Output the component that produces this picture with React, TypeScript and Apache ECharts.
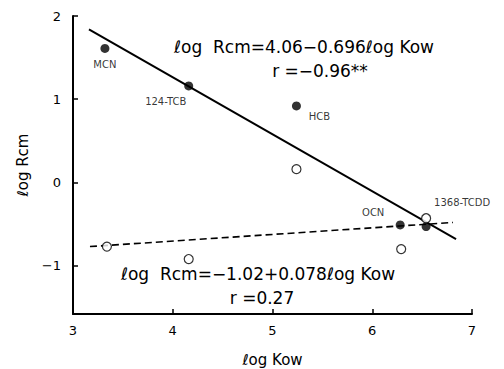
import React, { useEffect, useRef } from "react";
import * as echarts from "echarts";

// Filled points (log Kow, log Rcm) with compound names
const closedNames = ["MCN", "124-TCB", "HCB", "OCN", "1368-TCDD"];
const closedX = [3.32, 4.16, 5.24, 6.28, 6.54];
const closedY = [1.61, 1.16, 0.92, -0.51, -0.53];
// Open points
const openX = [3.34, 4.16, 5.24, 6.29, 6.54];
const openY = [-0.77, -0.92, 0.16, -0.8, -0.43];
// Regression line endpoints
const solidLineX = [3.16, 6.84];
const solidLineY = [1.84, -0.68];
const dashLineX = [3.17, 6.81];
const dashLineY = [-0.77, -0.48];
// Axis ticks
const xTicks = [3, 4, 5, 6, 7];
const yTicks = [-1, 0, 1, 2];

const labelOffsets: number[][] = [
  [0, 16],
  [-23, 16],
  [23, 11],
  [-27, -12],
  [36, -24],
];

const FONT = "'DejaVu Sans', 'Liberation Sans', sans-serif";

export default function App() {
  const ref = useRef<HTMLDivElement>(null);
  useEffect(() => {
    if (!ref.current) return;
    const chart = echarts.init(ref.current, undefined, { renderer: "svg" });
    const closedData = closedX.map((x, i) => ({
      value: [x, closedY[i]],
      label: {
        show: true,
        formatter: closedNames[i],
        position: "inside",
        offset: labelOffsets[i],
        color: "#000",
        fontSize: 10,
        fontFamily: FONT,
      },
    }));
    chart.setOption({
      animation: false,
      backgroundColor: "#fff",
      grid: { left: 73, top: 16, right: 32, bottom: 55, outerBoundsMode: "none", containLabel: false },
      xAxis: {
        type: "value",
        min: xTicks[0],
        max: xTicks[xTicks.length - 1],
        interval: 1,
        name: "ℓog Kow",
        nameLocation: "middle",
        nameGap: 38,
        nameTextStyle: { color: "#000", fontSize: 15, fontFamily: FONT },
        axisLine: { show: true, onZero: false, lineStyle: { color: "#000", width: 2 } },
        axisTick: { show: true, inside: true, length: 5, lineStyle: { color: "#000", width: 1.5 } },
        axisLabel: { color: "#000", fontSize: 13, fontFamily: FONT, margin: 10 },
        splitLine: { show: false },
      },
      yAxis: {
        type: "value",
        min: -1.58,
        max: 2,
        name: "ℓog Rcm",
        nameLocation: "middle",
        nameGap: 41,
        nameRotate: 90,
        nameTextStyle: { color: "#000", fontSize: 15, fontFamily: FONT },
        axisLine: { show: true, onZero: false, lineStyle: { color: "#000", width: 2 } },
        axisTick: {
          show: true,
          inside: true,
          length: 5,
          customValues: yTicks,
          lineStyle: { color: "#000", width: 1.5 },
        },
        axisLabel: {
          color: "#000",
          fontSize: 13,
          fontFamily: FONT,
          margin: 12,
          customValues: yTicks,
          formatter: (v: number) => (v < 0 ? "−" + Math.abs(v) : String(v)),
        },
        splitLine: { show: false },
      },
      series: [
        {
          type: "line",
          data: solidLineX.map((x, i) => [x, solidLineY[i]]),
          symbol: "none",
          lineStyle: { color: "#000", width: 2 },
          z: 2,
        },
        {
          type: "line",
          data: dashLineX.map((x, i) => [x, dashLineY[i]]),
          symbol: "none",
          lineStyle: { color: "#000", width: 1.6, type: [7, 4] },
          z: 2,
        },
        {
          type: "scatter",
          data: closedData,
          symbol: "circle",
          symbolSize: 9,
          itemStyle: { color: "#000" },
          z: 3,
        },
        {
          type: "scatter",
          data: openX.map((x, i) => [x, openY[i]]),
          symbol: "circle",
          symbolSize: 9,
          itemStyle: { color: "#fff", borderColor: "#000", borderWidth: 1.2 },
          z: 4,
        },
      ],
      graphic: [
        {
          type: "text",
          x: 304,
          y: 47,
          style: {
            text: "ℓog  Rcm=4.06−0.696ℓog Kow",
            fill: "#000",
            font: `17px ${FONT}`,
            align: "center",
            verticalAlign: "middle",
          },
        },
        {
          type: "text",
          x: 320,
          y: 71,
          style: {
            text: "r =−0.96**",
            fill: "#000",
            font: `17px ${FONT}`,
            align: "center",
            verticalAlign: "middle",
          },
        },
        {
          type: "text",
          x: 258,
          y: 274,
          style: {
            text: "ℓog  Rcm=−1.02+0.078ℓog Kow",
            fill: "#000",
            font: `17px ${FONT}`,
            align: "center",
            verticalAlign: "middle",
          },
        },
        {
          type: "text",
          x: 262,
          y: 298,
          style: {
            text: "r =0.27",
            fill: "#000",
            font: `17px ${FONT}`,
            align: "center",
            verticalAlign: "middle",
          },
        },
      ],
    });
    return () => chart.dispose();
  }, []);
  return <div ref={ref} style={{ width: 504, height: 369, position: "absolute", left: 0, top: 0 }} />;
}
